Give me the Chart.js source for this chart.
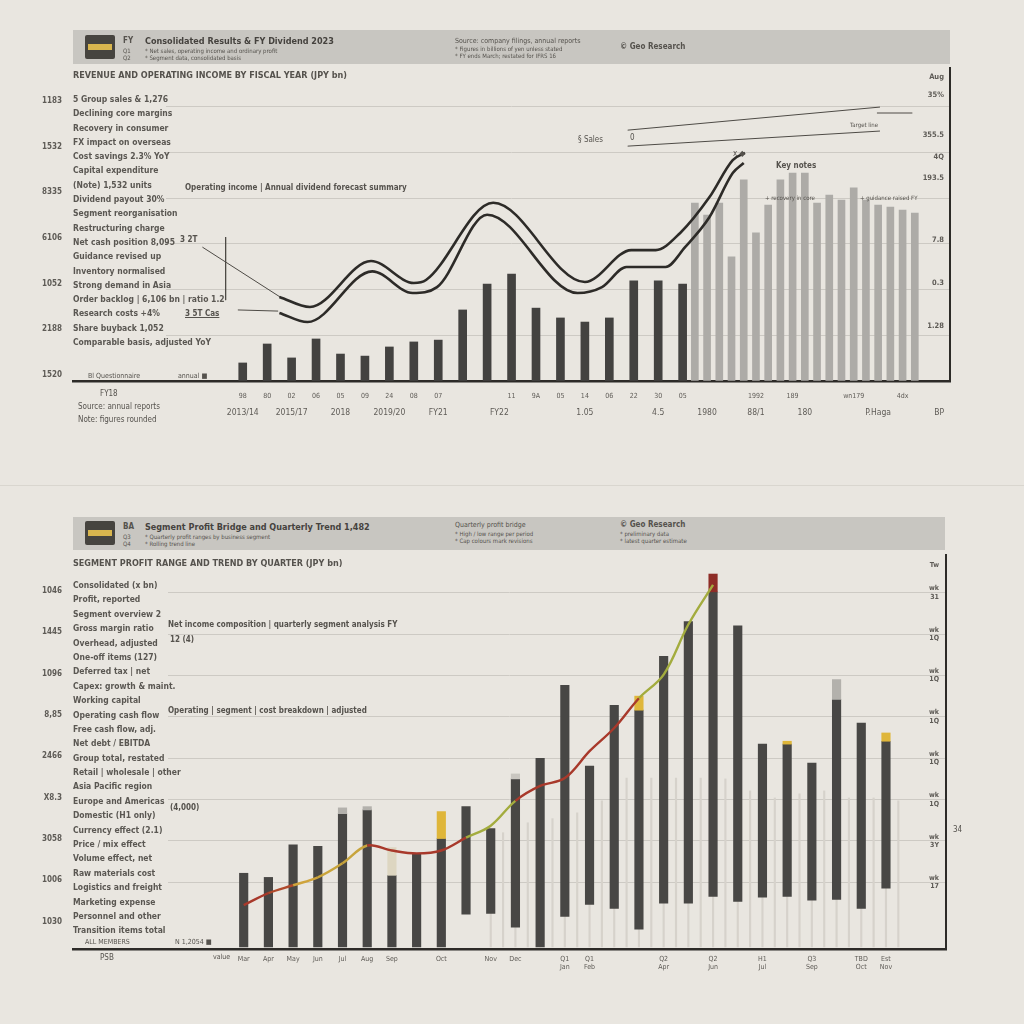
<!DOCTYPE html>
<html>
<head>
<meta charset="utf-8">
<title>Results overview</title>
<script src="https://cdn.jsdelivr.net/npm/chart.js@4.4.1/dist/chart.umd.min.js"></script>
<style>
  html, body { margin: 0; padding: 0; }
  body { width: 1024px; height: 1024px; background: #e9e6e0; position: relative; overflow: hidden;
         font-family: "DejaVu Sans Condensed", "Liberation Sans Narrow", "DejaVu Sans", sans-serif; color: #55524d; }
  canvas { position: absolute; left: 0; }
  .t { position: absolute; white-space: nowrap; font-size: 8px; line-height: 1; }
  .b { font-weight: bold; }
  .s { font-size: 6px; }
  .hdr { position: absolute; background: #c8c6c1; }
  .icon { position: absolute; width: 30px; height: 24px; background: #46443f; border-radius: 2px; }
  .icon::after { content: ""; position: absolute; left: 3px; right: 3px; top: 9px; height: 6px; background: #d8b64e; }
  .col { position: absolute; background: #e9e6e0; font-weight: bold; font-size: 8.5px; color: #5a5752; }
  .col div { white-space: nowrap; }
  .sep { position: absolute; left: 0; top: 485px; width: 1024px; height: 1px; background: #d9d6cf; }
</style>
</head>
<body>
<canvas id="c1" width="1024" height="440" style="top:0;width:1024px;height:440px"></canvas>
<canvas id="c2" width="1024" height="510" style="top:490px;width:1024px;height:510px"></canvas>
<div class="sep"></div>

<!-- panel 1 header -->
<div class="hdr" style="left:73px;top:30px;width:877px;height:34px"></div>
<div class="icon" style="left:85px;top:35px"></div>
<div class="t b" style="left:123px;top:37px">FY</div>
<div class="t s" style="left:123px;top:48px">Q1</div>
<div class="t s" style="left:123px;top:55px">Q2</div>
<div class="t b" style="left:145px;top:37px;font-size:9px;color:#45423e">Consolidated Results &amp; FY Dividend 2023</div>
<div class="t s" style="left:145px;top:48px">* Net sales, operating income and ordinary profit</div>
<div class="t s" style="left:145px;top:55px">* Segment data, consolidated basis</div>
<div class="t" style="left:455px;top:38px;font-size:7px">Source: company filings, annual reports</div>
<div class="t s" style="left:455px;top:46px">* Figures in billions of yen unless stated</div>
<div class="t s" style="left:455px;top:53px">* FY ends March; restated for IFRS 16</div>
<div class="t b" style="left:620px;top:43px">© Geo Research</div>
<div class="t b" style="left:73px;top:71px;font-size:9px">REVENUE AND OPERATING INCOME BY FISCAL YEAR (JPY bn)</div>
<div class="col" id="col1" style="left:73px;top:94px;width:93px;height:278px"></div>
<div class="t b" style="left:185px;top:184px">Operating income | Annual dividend forecast summary</div>
<div class="t b" style="left:180px;top:236px">3 2T</div>
<div class="t b" style="left:185px;top:310px;text-decoration:underline">3 5T Cas</div>
<div class="t" style="left:578px;top:136px">§ Sales</div>
<div class="t" style="left:630px;top:134px">0</div>
<div class="t" style="left:733px;top:150px">x ◆</div>
<div class="t b" style="left:776px;top:162px">Key notes</div>
<div class="t s" style="left:765px;top:195px">+ recovery in core</div>
<div class="t s" style="left:860px;top:195px">+ guidance raised FY</div>
<div class="t s" style="left:850px;top:122px">Target line</div>
<div class="t" style="left:88px;top:373px;font-size:7px">Bl Questionnaire</div>
<div class="t" style="left:178px;top:373px;font-size:7px">annual ■</div>
<div class="t" style="left:100px;top:390px">FY18</div>
<div class="t" style="left:78px;top:403px">Source: annual reports</div>
<div class="t" style="left:78px;top:416px">Note: figures rounded</div>

<!-- panel 2 header -->
<div class="hdr" style="left:73px;top:517px;width:872px;height:33px"></div>
<div class="icon" style="left:85px;top:521px"></div>
<div class="t b" style="left:123px;top:523px">BA</div>
<div class="t s" style="left:123px;top:534px">Q3</div>
<div class="t s" style="left:123px;top:541px">Q4</div>
<div class="t b" style="left:145px;top:523px;font-size:9px;color:#45423e">Segment Profit Bridge and Quarterly Trend 1,482</div>
<div class="t s" style="left:145px;top:534px">* Quarterly profit ranges by business segment</div>
<div class="t s" style="left:145px;top:541px">* Rolling trend line</div>
<div class="t" style="left:455px;top:522px;font-size:7px">Quarterly profit bridge</div>
<div class="t s" style="left:455px;top:531px">* High / low range per period</div>
<div class="t s" style="left:455px;top:538px">* Cap colours mark revisions</div>
<div class="t b" style="left:620px;top:521px">© Geo Research</div>
<div class="t s" style="left:620px;top:531px">* preliminary data</div>
<div class="t s" style="left:620px;top:538px">* latest quarter estimate</div>
<div class="t b" style="left:73px;top:559px;font-size:9px">SEGMENT PROFIT RANGE AND TREND BY QUARTER (JPY bn)</div>
<div class="col" id="col2" style="left:73px;top:580px;width:95px;height:358px"></div>
<div class="t b" style="left:168px;top:621px">Net income composition | quarterly segment analysis FY</div>
<div class="t b" style="left:170px;top:636px">12 (4)</div>
<div class="t b" style="left:168px;top:707px">Operating | segment | cost breakdown | adjusted</div>
<div class="t b" style="left:170px;top:804px">(4,000)</div>
<div class="t" style="left:85px;top:939px;font-size:7px">ALL MEMBERS</div>
<div class="t" style="left:175px;top:939px;font-size:7px">N 1,2054 ■</div>
<div class="t" style="left:100px;top:954px">PSB</div>
<div class="t" style="left:213px;top:954px;font-size:7px">value</div>
<div class="t" style="left:953px;top:826px">34</div>

<script>
// ---------- top chart ----------
const leftTicks1 = ['1520', '2188', '1052', '6106', '8335', '1532', '1183'];
const rightTickVals1 = [24.1, 42.9, 61.7, 88.8, 98.0, 107.6, 125.2, 133.0];
const rightTicks1 = ['1.28', '0.3', '7.8', '193.5', '4Q', '355.5', '35%', 'Aug'];

// revenue (dark, every second period) and forecast (light) bars
const darkBars1 = [7.9, 16.2, 10.1, 18.4, 11.8, 10.9, 14.9, 17.1, 17.9, 31.1, 42.4, 46.8, 31.9, 27.6, 25.8, 27.6, 43.8, 43.8, 42.4];
const lightBars1 = [77.9, 72.6, 77.9, 54.3, 88.0, 64.8, 77.0, 88.0, 91.0, 91.0, 77.9, 81.4, 79.2, 84.5, 79.2, 77.0, 76.1, 74.8, 73.5];

// operating income band (upper and lower edge)
const upperX1 = [3, 5.5, 10.5, 14, 15, 20.5, 28, 31.8, 33.8, 35.8, 38.2, 40.1, 41.1];
const upperY1 = [36.8, 32.4, 52.5, 42.9, 44.2, 78, 43.3, 57.3, 57.3, 64.8, 80.5, 96.7, 99.8];
const lowerX1 = [3, 5.3, 10.6, 13.9, 15.9, 20, 27.4, 29.4, 31.4, 34.6, 36.2, 38.2, 40.1, 41];
const lowerY1 = [29.8, 25.8, 48, 38.5, 41.1, 72.8, 38.5, 41.1, 49.9, 49.9, 58.6, 71.8, 91, 95.4];

// leader lines of the notes
const notes1 = [
  [[31.5, 109.8], [52.15, 119.9]],
  [[31.5, 102.8], [52.15, 109.4]],
  [[51.9, 117.3], [54.8, 117.3]],
  [[-3.3, 58.6], [3.05, 36.8]],
  [[-0.4, 31.1], [2.9, 30.6]],
  [[-1.4, 63.0], [-1.4, 35.4]]
];

const xRowAt1 = [0, 2, 4, 6, 8, 10, 12, 14, 16, 22, 24, 26, 28, 30, 32, 34, 36, 42, 45, 50, 54];
const xRow1 = ['98', '80', '02', '06', '05', '09', '24', '08', '07', '11', '9A', '05', '14', '06', '22', '30', '05', '1992', '189', 'wn179', '4dx'];
const xYearsAt1 = [0, 4, 8, 12, 16, 21, 28, 34, 38, 42, 46, 52, 57];
const xYears1 = ['2013/14', '2015/17', '2018', '2019/20', 'FY21', 'FY22', '1.05', '4.5', '1980', '88/1', '180', 'P.Haga', 'BP'];

const colLines1 = ['5 Group sales & 1,276', 'Declining core margins', 'Recovery in consumer', 'FX impact on overseas', 'Cost savings 2.3% YoY', 'Capital expenditure', '(Note) 1,532 units', 'Dividend payout 30%',
  'Segment reorganisation', 'Restructuring charge', 'Net cash position 8,095', 'Guidance revised up', 'Inventory normalised', 'Strong demand in Asia',
  'Order backlog | 6,106 bn | ratio 1.2', 'Research costs +4%', 'Share buyback 1,052', 'Comparable basis, adjusted YoY'];

// ---------- bottom chart ----------
const leftTicks2 = ['1030', '1006', '3058', 'X8.3', '2466', '8,85', '1096', '1445'];   // -10 .. 60
const leftTop2 = '1046';   // 70
const rightTickVals2 = [0, 10, 20, 30, 40, 50, 60, 70, 76.7];
const rightTicks2 = [['wk', '17'], ['wk', '3Y'], ['wk', '1Q'], ['wk', '1Q'], ['wk', '1Q'], ['wk', '1Q'], ['wk', '1Q'], ['wk', '31'], 'Tw'];

const barBase2 = [-15.6, -15.6, -15.6, -15.6, -15.6, -15.6, -15.6, -15.6, -15.6, -7.7, -7.5, -10.8, -15.6, -8.2, -5.3, -6.3, -11.3, -5.0, -5.0, -3.4, -4.6, -3.6, -3.4, -4.3, -4.1, -6.3, -1.4];
const barTop2 = [2.2, 1.2, 9.1, 8.7, 16.6, 17.5, 1.7, 7.0, 10.6, 18.3, 13.0, 25.0, 30.0, 47.6, 28.1, 42.8, 41.6, 54.6, 63.0, 70.2, 62.0, 33.4, 33.4, 28.8, 44.2, 38.5, 34.1];
const capTop2 = [null, null, null, null, 18.0, 18.3, 8.4, null, 17.1, null, null, 26.2, null, null, null, null, 45.0, null, null, 74.5, null, null, 34.1, null, 49.0, null, 36.1];
const capKind2 = ['', '', '', '', 'grey', 'grey', 'cream', '', 'gold', '', '', 'light', '', '', '', '', 'gold', '', '', 'red', '', '', 'gold', '', 'grey', '', 'gold'];
const trend2 = [-5.5, -2.6, -0.7, 1.2, 4.6, 8.9, 7.7, 7.0, 7.7, 10.8, 13.7, 19.7, 23.3, 25.2, 31.7, 37.3, 44.5, 50.2, 62.3, 71.9];
const faintStart2 = 20;
const faint2 = [11.3, 12, 13, 14.4, 14.9, 15.4, 16.1, 16.8, 17.8, 19.7, 23.3, 25.2, 25.2, 25.2, 25.2, 25.2, 25.2, 25.2, 25, 25, 25, 22.1, 20.4, 20.4, 20.9, 21.4, 22.1, 22.1, 21.4, 20.4, 20.4, 20.4, 20.4, 19.7];
const xLabels2 = ['Mar', 'Apr', 'May', 'Jun', 'Jul', 'Aug', 'Sep', '', 'Oct', '', 'Nov', 'Dec', '', ['Q1', 'Jan'], ['Q1', 'Feb'], '', '', ['Q2', 'Apr'], '',
  ['Q2', 'Jun'], '', ['H1', 'Jul'], '', ['Q3', 'Sep'], '', ['TBD', 'Oct'], ['Est', 'Nov']];

const colLines2 = ['Consolidated (x bn)', 'Profit, reported', 'Segment overview 2', 'Gross margin ratio', 'Overhead, adjusted', 'One-off items (127)', 'Deferred tax | net',
  'Capex: growth & maint.', 'Working capital', 'Operating cash flow', 'Free cash flow, adj.', 'Net debt / EBITDA', 'Group total, restated', 'Retail | wholesale | other',
  'Asia Pacific region', 'Europe and Americas', 'Domestic (H1 only)', 'Currency effect (2.1)', 'Price / mix effect', 'Volume effect, net', 'Raw materials cost',
  'Logistics and freight', 'Marketing expense', 'Personnel and other', 'Transition items  total'];

// ---------- styles ----------
const INK = '#2d2b28';
const TXT = '#5e5b56';
const GRID = '#cdcac4';
const FONT = '"DejaVu Sans Condensed", "Liberation Sans Narrow", "DejaVu Sans", sans-serif';
const capColors = { grey: '#b3b1ac', cream: '#ddd6c1', gold: '#dfb63a', light: '#c9c6c0', red: '#8e2d27' };
const segColors2 = ['#a8392b', '#b04a2c', '#cfa43c', '#c9a43a', '#c7a43c', '#a8392b', '#a8392b', '#a8392b', '#a8392b',
  '#a3ac3e', '#a3ac3e', '#a8392b', '#a8392b', '#a8392b', '#a8392b', '#a8392b', '#a3ac3e', '#a3ac3e', '#a3ac3e'];

Chart.defaults.font.family = FONT;
Chart.defaults.color = TXT;

const fixW = w => s => { s.width = w; };
const fixH = h => s => { s.height = h; s.paddingLeft = 0; s.paddingRight = 0; };
const pts = (xs, ys) => xs.map((x, i) => ({ x: x, y: ys[i] }));

function fillCol(id, lines, step) {
  const el = document.getElementById(id);
  lines.forEach(l => {
    const d = document.createElement('div');
    d.style.height = step + 'px';
    d.textContent = l;
    el.appendChild(d);
  });
}
fillCol('col1', colLines1, 14.3);
fillCol('col2', colLines2, 14.4);

new Chart(document.getElementById('c1'), {
  type: 'bar',
  data: {
    datasets: [
      { type: 'line', data: pts(upperX1, upperY1), borderColor: INK, borderWidth: 2.6, pointRadius: 0, cubicInterpolationMode: 'monotone', order: 0 },
      { type: 'line', data: pts(lowerX1, lowerY1), borderColor: INK, borderWidth: 2.6, pointRadius: 0, cubicInterpolationMode: 'monotone', order: 0 },
      ...notes1.map(n => ({ type: 'line', data: n.map(p => ({ x: p[0], y: p[1] })), borderColor: '#4e4b46', borderWidth: 1, pointRadius: 0, order: 0 })),
      { data: darkBars1.map((v, i) => ({ x: 2 * i, y: v })), backgroundColor: '#434240', barThickness: 8, grouped: false, order: 2 },
      { data: lightBars1.map((v, i) => ({ x: 37 + i, y: v })), backgroundColor: '#adaba7', barThickness: 7, grouped: false, order: 3 }
    ]
  },
  options: {
    responsive: false, animation: false, devicePixelRatio: 1,
    layout: { padding: { top: 68, left: 0, right: 0, bottom: 0 } },
    plugins: { legend: { display: false }, tooltip: { enabled: false } },
    scales: {
      x: {
        type: 'linear', min: -13.89, max: 57.88, offset: false, position: 'bottom', weight: 0,
        grid: { display: false }, border: { color: INK, width: 2.5 },
        afterFit: fixH(20),
        afterBuildTicks: s => { s.ticks = xRowAt1.map(v => ({ value: v })); },
        ticks: { autoSkip: false, maxRotation: 0, padding: 3, font: { size: 7 }, callback: (v, i) => xRow1[i] }
      },
      x2: {
        type: 'linear', min: -13.89, max: 57.88, offset: false, position: 'bottom', weight: 1,
        grid: { display: false, drawTicks: false }, border: { display: false },
        afterFit: fixH(39),
        afterBuildTicks: s => { s.ticks = xYearsAt1.map(v => ({ value: v })); },
        ticks: { autoSkip: false, maxRotation: 0, padding: 7, font: { size: 8.5 }, callback: (v, i) => xYears1[i] }
      },
      y: {
        position: 'left', min: 0, max: 137,
        afterBuildTicks: s => { s.ticks = leftTicks1.map((_, i) => ({ value: 20 * i })); },
        afterFit: fixW(73),
        grid: { color: GRID, drawTicks: false, lineWidth: 1 }, border: { display: false },
        ticks: { padding: 11, labelOffset: -6, font: { size: 8, weight: 'bold' }, callback: (v, i) => leftTicks1[i] }
      },
      y2: {
        position: 'right', min: 0, max: 137,
        afterBuildTicks: s => { s.ticks = rightTickVals1.map(v => ({ value: v })); },
        afterFit: fixW(74),
        grid: { display: false, drawTicks: false }, border: { color: INK, width: 2 },
        ticks: { mirror: true, padding: -6, font: { size: 7.5, weight: 'bold' }, callback: (v, i) => rightTicks1[i] }
      }
    }
  }
});

const caps2 = [];
capTop2.forEach((t, k) => { if (t !== null) caps2.push({ x: 2 * k, y: [barTop2[k], t], kind: capKind2[k] }); });

new Chart(document.getElementById('c2'), {
  type: 'bar',
  data: {
    datasets: [
      { type: 'line', data: trend2.map((v, k) => ({ x: 2 * k, y: v })), borderColor: '#a8392b', borderWidth: 2.4, pointRadius: 0, tension: 0.35,
        segment: { borderColor: c => segColors2[c.p0DataIndex] }, order: 0 },
      { data: caps2, backgroundColor: c => capColors[c.raw.kind], barThickness: 8.5, grouped: false, order: 1 },
      { data: barTop2.map((v, k) => ({ x: 2 * k, y: [barBase2[k], v] })), backgroundColor: '#484745', barThickness: 8.5, grouped: false, order: 2 },
      { data: faint2.map((v, i) => ({ x: faintStart2 + i, y: [-15.6, v] })), backgroundColor: '#d6d2cb', barThickness: 1.5, grouped: false, order: 3 }
    ]
  },
  options: {
    responsive: false, animation: false, devicePixelRatio: 1,
    layout: { padding: { top: 65, left: 0, right: 0, bottom: 0 } },
    plugins: { legend: { display: false }, tooltip: { enabled: false } },
    scales: {
      x: {
        type: 'linear', min: -13.82, max: 56.86, offset: false, position: 'bottom',
        grid: { display: false }, border: { color: INK, width: 2.5 },
        afterFit: fixH(51),
        afterBuildTicks: s => { s.ticks = xLabels2.map((_, k) => ({ value: 2 * k })); },
        ticks: { autoSkip: false, maxRotation: 0, padding: -2, font: { size: 7 }, callback: (v, i) => xLabels2[i] }
      },
      y: {
        position: 'left', min: -16.1, max: 79.1,
        afterBuildTicks: s => { s.ticks = [-10, 0, 10, 20, 30, 40, 50, 60, 70].map(v => ({ value: v })); },
        afterFit: fixW(73),
        grid: { color: s => (s.tick && s.tick.value < 0) ? 'rgba(0,0,0,0)' : GRID, drawTicks: false, lineWidth: 1 }, border: { display: false },
        ticks: { padding: 11, labelOffset: -2, font: { size: 8, weight: 'bold' }, callback: (v, i) => i < leftTicks2.length ? leftTicks2[i] : leftTop2 }
      },
      y2: {
        position: 'right', min: -16.1, max: 79.1,
        afterBuildTicks: s => { s.ticks = rightTickVals2.map(v => ({ value: v })); },
        afterFit: fixW(78),
        grid: { display: false, drawTicks: false }, border: { color: INK, width: 2 },
        ticks: { mirror: true, padding: -7, font: { size: 7, weight: 'bold' }, callback: (v, i) => rightTicks2[i] }
      }
    }
  }
});
</script>
</body>
</html>
